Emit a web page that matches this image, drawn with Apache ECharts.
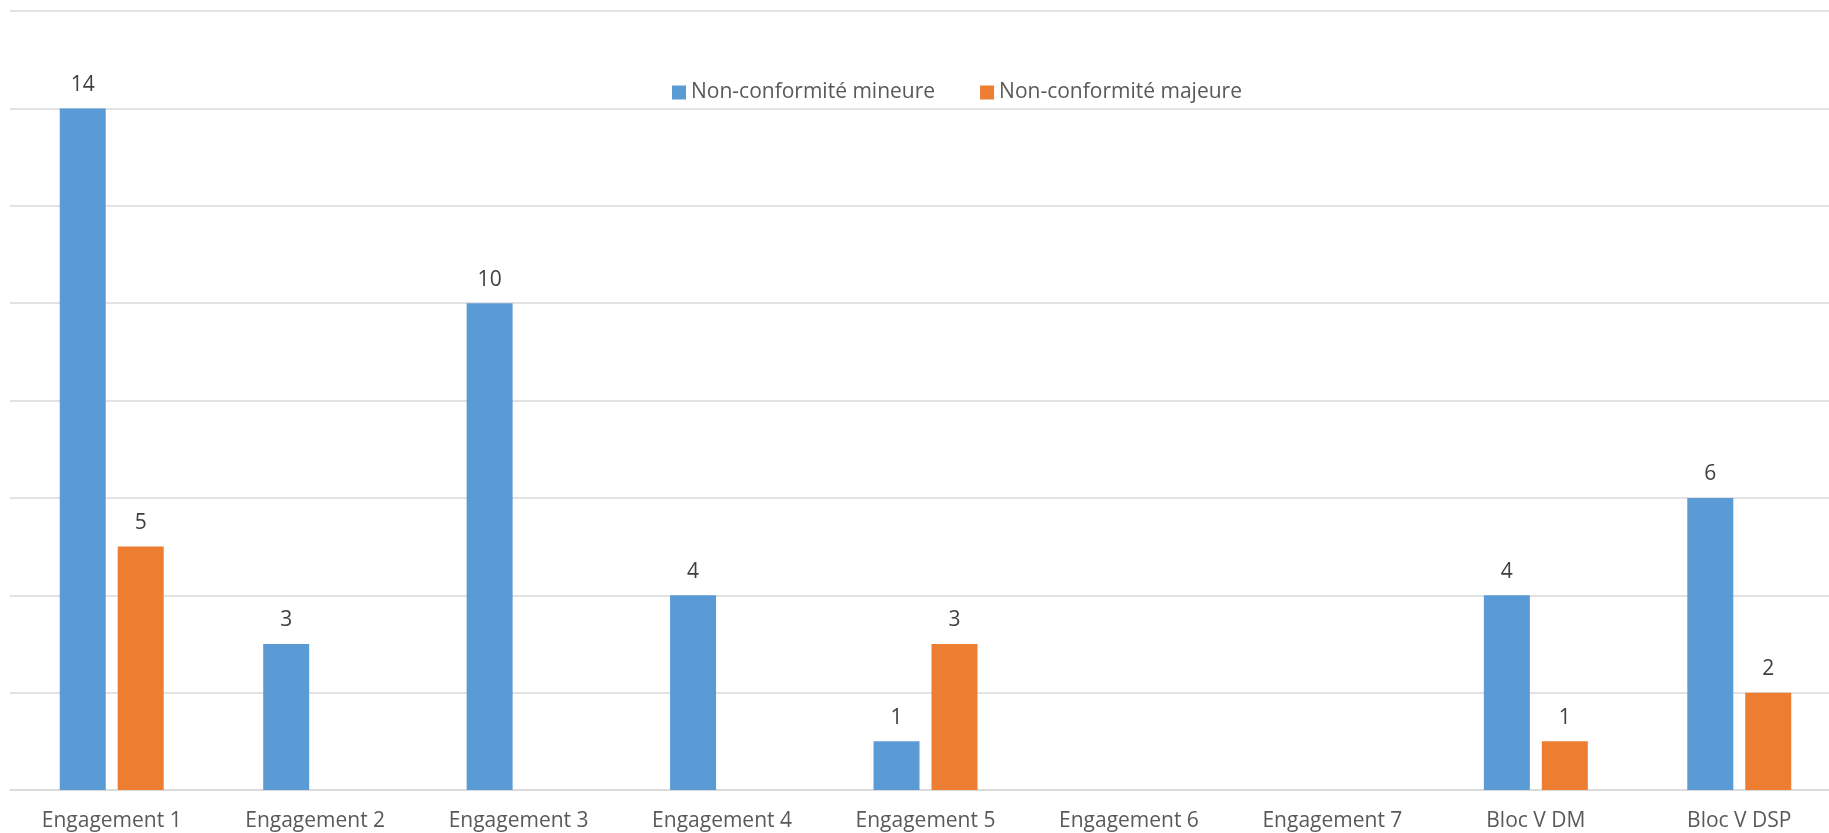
<!DOCTYPE html>
<html>
<head>
<meta charset="utf-8">
<script src="https://cdn.jsdelivr.net/npm/echarts@6/dist/echarts.min.js"></script>
<style>
  html, body { margin: 0; padding: 0; background: #fff; overflow: hidden; }
  /* le graphique déborde à droite comme dans la capture d'origine */
  #chart { width: 1841px; height: 833px; }
</style>
</head>
<body>
<div id="chart"></div>
<script>
// catégories et valeurs
const categories = ['Engagement 1', 'Engagement 2', 'Engagement 3', 'Engagement 4', 'Engagement 5',
  'Engagement 6', 'Engagement 7', 'Bloc V DM', 'Bloc V DSP'];
const mineure = [14, 3, 10, 4, 1, null, null, 4, 6];
const majeure = [5, null, null, null, 3, null, null, 1, 2];
const seriesNames = ['Non-conformité mineure', 'Non-conformité majeure'];

const FONT = '"Open Sans", sans-serif';

const chart = echarts.init(document.getElementById('chart'));

const barLabel = {
  show: true,
  position: 'top',
  distance: 13,
  color: '#404040',
  fontSize: 21,
  fontFamily: FONT,
};

chart.setOption({
  animation: false,
  legend: {
    left: 667,
    top: 77,
    itemWidth: 14,
    itemHeight: 14,
    itemGap: 45,
    icon: 'rect',
    textStyle: { color: '#595959', fontSize: 21, fontFamily: FONT },
    data: seriesNames,
  },
  grid: {
    left: 10,
    top: 11,
    right: 0,
    bottom: 43,
    containLabel: false,
  },
  xAxis: {
    type: 'category',
    data: categories,
    axisTick: { show: false },
    axisLine: { lineStyle: { color: '#D9D9D9', width: 1.5 } },
    axisLabel: {
      color: '#595959',
      fontSize: 21,
      fontFamily: FONT,
      margin: 21,
      interval: 0,
    },
  },
  yAxis: {
    type: 'value',
    min: 0,
    max: 16,
    interval: 2,
    axisLabel: { show: false },
    axisLine: { show: false },
    axisTick: { show: false },
    splitLine: { lineStyle: { color: '#D9D9D9', width: 1.5 } },
  },
  series: [
    {
      name: seriesNames[0],
      type: 'bar',
      data: mineure,
      barWidth: 46,
      barGap: '26%',
      itemStyle: { color: '#5B9BD5' },
      label: barLabel,
    },
    {
      name: seriesNames[1],
      type: 'bar',
      data: majeure,
      barWidth: 46,
      barGap: '26%',
      itemStyle: { color: '#ED7D31' },
      label: barLabel,
    },
  ],
});
</script>
</body>
</html>
